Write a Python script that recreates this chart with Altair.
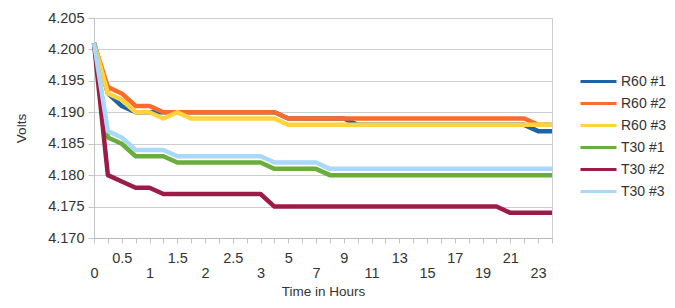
import json
import altair as alt
import pandas as pd

hours = ["0", "0.25", "0.5", "0.75", "1", "1.25", "1.5", "1.75", "2", "2.25", "2.5", "2.75", "3",
         "4", "5", "6", "7", "8", "9", "10", "11", "12", "13", "14", "15", "16", "17", "18",
         "19", "20", "21", "22", "23", "24"]

r60_1 = [4.201, 4.193, 4.191, 4.190, 4.190, 4.190, 4.190, 4.190, 4.190, 4.190, 4.190, 4.190, 4.190,
         4.190, 4.189, 4.189, 4.189, 4.189, 4.189, 4.188, 4.188, 4.188, 4.188, 4.188, 4.188, 4.188,
         4.188, 4.188, 4.188, 4.188, 4.188, 4.188, 4.187, 4.187]
r60_2 = [4.201, 4.194, 4.193, 4.191, 4.191, 4.190, 4.190, 4.190, 4.190, 4.190, 4.190, 4.190, 4.190,
         4.190, 4.189, 4.189, 4.189, 4.189, 4.189, 4.189, 4.189, 4.189, 4.189, 4.189, 4.189, 4.189,
         4.189, 4.189, 4.189, 4.189, 4.189, 4.189, 4.188, 4.188]
r60_3 = [4.201, 4.193, 4.192, 4.190, 4.190, 4.189, 4.190, 4.189, 4.189, 4.189, 4.189, 4.189, 4.189,
         4.189, 4.188, 4.188, 4.188, 4.188, 4.188, 4.188, 4.188, 4.188, 4.188, 4.188, 4.188, 4.188,
         4.188, 4.188, 4.188, 4.188, 4.188, 4.188, 4.188, 4.188]
t30_1 = [4.201, 4.186, 4.185, 4.183, 4.183, 4.183, 4.182, 4.182, 4.182, 4.182, 4.182, 4.182, 4.182,
         4.181, 4.181, 4.181, 4.181, 4.180, 4.180, 4.180, 4.180, 4.180, 4.180, 4.180, 4.180, 4.180,
         4.180, 4.180, 4.180, 4.180, 4.180, 4.180, 4.180, 4.180]
t30_2 = [4.201, 4.180, 4.179, 4.178, 4.178, 4.177, 4.177, 4.177, 4.177, 4.177, 4.177, 4.177, 4.177,
         4.175, 4.175, 4.175, 4.175, 4.175, 4.175, 4.175, 4.175, 4.175, 4.175, 4.175, 4.175, 4.175,
         4.175, 4.175, 4.175, 4.175, 4.174, 4.174, 4.174, 4.174]
t30_3 = [4.201, 4.187, 4.186, 4.184, 4.184, 4.184, 4.183, 4.183, 4.183, 4.183, 4.183, 4.183, 4.183,
         4.182, 4.182, 4.182, 4.182, 4.181, 4.181, 4.181, 4.181, 4.181, 4.181, 4.181, 4.181, 4.181,
         4.181, 4.181, 4.181, 4.181, 4.181, 4.181, 4.181, 4.181]

series_names = ["R60 #1", "R60 #2", "R60 #3", "T30 #1", "T30 #2", "T30 #3"]
series_values = [r60_1, r60_2, r60_3, t30_1, t30_2, t30_3]
colors = ["#1c64a3", "#fb6b2c", "#ffd23f", "#69ad3a", "#9c1c48", "#a9d8f8"]

upper_labels = ["0.5", "1.5", "2.5", "5", "9", "13", "17", "21"]
lower_labels = ["0", "1", "2", "3", "7", "11", "15", "19", "23"]
y_ticks = [4.170, 4.175, 4.180, 4.185, 4.190, 4.195, 4.200, 4.205]

rows = []
for name, vals in zip(series_names, series_values):
    for h, v in zip(hours, vals):
        rows.append({"hour": h, "volts": v, "series": name})
df = pd.DataFrame(rows)

label_expr = (
    f"indexof({json.dumps(upper_labels)}, datum.label) >= 0 ? datum.label : "
    f"(indexof({json.dumps(lower_labels)}, datum.label) >= 0 ? ['', datum.label] : '')"
)

FONT = "Liberation Sans"

chart = alt.Chart(df).mark_line(strokeWidth=4.5, strokeJoin="round").encode(
    x=alt.X(
        "hour:O",
        sort=hours,
        scale=alt.Scale(type="point", padding=0),
        axis=alt.Axis(
            title="Time in Hours",
            labelAngle=0,
            labelExpr=label_expr,
            labelFontSize=14.5,
            labelLineHeight=15,
            labelPadding=8,
            labelColor="#333333",
            labelFont=FONT,
            labelOverlap=False,
            labelBound=False,
            labelFlush=False,
            tickSize=5,
            tickColor="#c4c4c4",
            domainColor="#b8b8b8",
            grid=False,
            titleFont=FONT,
            titleFontSize=13.5,
            titleFontWeight="normal",
            titleColor="#333333",
            titlePadding=5,
        ),
    ),
    y=alt.Y(
        "volts:Q",
        scale=alt.Scale(domain=[4.170, 4.205], nice=False, zero=False),
        axis=alt.Axis(
            title="Volts",
            values=y_ticks,
            format=".3f",
            labelFontSize=14.5,
            labelFont=FONT,
            labelColor="#333333",
            labelPadding=4,
            tickSize=6,
            tickColor="#c4c4c4",
            domainColor="#c4c4c4",
            gridColor="#cdcdcd",
            titleFont=FONT,
            titleFontSize=13.5,
            titleFontWeight="normal",
            titleColor="#333333",
            titleX=-66,
        ),
    ),
    color=alt.Color(
        "series:N",
        sort=series_names,
        scale=alt.Scale(domain=series_names, range=colors),
        legend=alt.Legend(
            title=None,
            orient="none",
            legendX=497,
            legendY=56,
            padding=0,
            symbolType="M-3,0L3,0",
            symbolSize=144,
            symbolStrokeWidth=3,
            labelOffset=15,
            labelFontSize=14,
            labelFont=FONT,
            labelColor="#333333",
            labelLimit=200,
            rowPadding=7,
        ),
    ),
).properties(
    width=458,
    height=220,
    padding={"left": 86, "top": 10, "right": 115, "bottom": 62},
    autosize=alt.AutoSizeParams(type="none"),
).configure_view(
    stroke="#cdcdcd"
)

chart.save("out.html", embed_options={"renderer": "svg", "actions": False})
